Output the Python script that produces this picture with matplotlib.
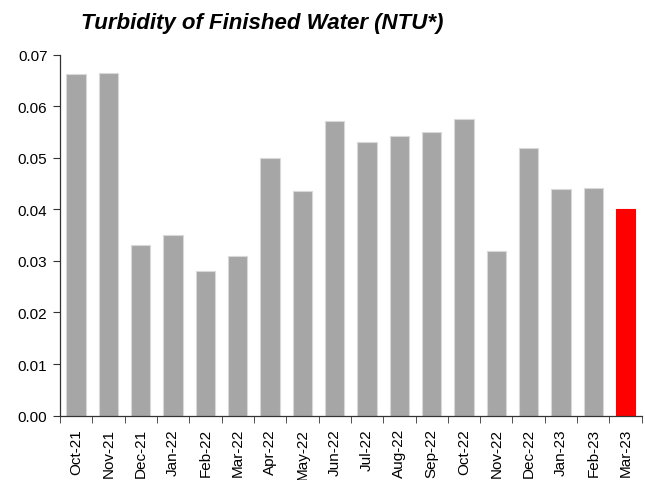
import matplotlib
matplotlib.use("Agg")
import matplotlib.pyplot as plt
import numpy as np

# Turbidity of finished water, monthly

months = ["Oct-21", "Nov-21", "Dec-21", "Jan-22", "Feb-22", "Mar-22", "Apr-22", "May-22",
          "Jun-22", "Jul-22", "Aug-22", "Sep-22", "Oct-22", "Nov-22", "Dec-22", "Jan-23",
          "Feb-23", "Mar-23"]
turbidity = [0.0663, 0.0664, 0.033, 0.035, 0.028, 0.031, 0.050, 0.0435,
             0.0572, 0.053, 0.0543, 0.0551, 0.0576, 0.032, 0.052, 0.044,
             0.0441, 0.040]

plt.rcParams['font.family'] = ['Liberation Sans', 'DejaVu Sans']

fig = plt.figure(figsize=(6.45, 4.81), dpi=100)
ax = fig.add_axes([0.093, 0.134, 0.902, 0.750])

x = np.arange(len(months))
colors = ['#A6A6A6'] * (len(months) - 1) + ['#FF0000']
edges = ['#D9D9D9'] * (len(months) - 1) + ['#FF0000']
ax.bar(x, turbidity, width=0.6, color=colors, edgecolor=edges, linewidth=0.8)

ax.set_xlim(-0.5, len(months) - 0.5)
ax.set_ylim(0, 0.07)
ax.set_yticks(np.arange(0, 0.0701, 0.01))
ax.set_yticklabels([f"{v:.2f}" for v in np.arange(0, 0.0701, 0.01)])

ax.set_xticks(x)
ax.set_xticklabels(months, rotation=90)
ax.set_xticks(np.arange(-0.5, len(months), 1), minor=True)
ax.tick_params(axis='x', which='major', length=0, pad=9)
ax.tick_params(axis='x', which='minor', length=5, direction='out', color='#333333')
ax.tick_params(axis='y', length=5, direction='out', color='#333333', pad=4)
ax.tick_params(labelsize=11)

for s in ['top', 'right']:
    ax.spines[s].set_visible(False)
for s in ['left', 'bottom']:
    ax.spines[s].set_color('#333333')
    ax.spines[s].set_linewidth(0.9)

fig.text(0.126, 0.952, "Turbidity of Finished Water (NTU*)", fontsize=16,
         fontweight='bold', fontstyle='italic', va='center', ha='left')

fig.savefig("out.png", dpi=100)
